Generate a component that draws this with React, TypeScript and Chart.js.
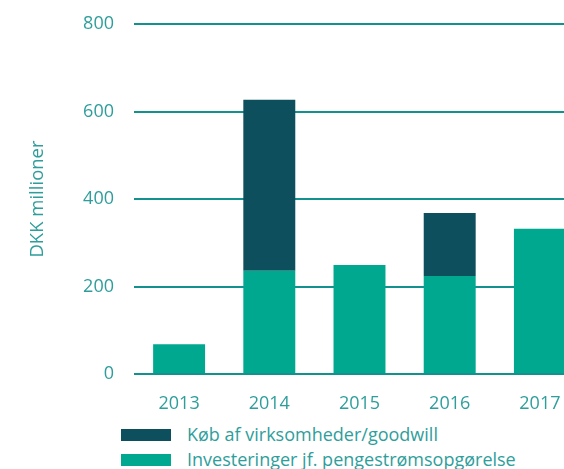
import React, { useEffect, useRef } from "react";
import { Chart, registerables } from "chart.js";

Chart.register(...registerables);

const years = ["2013", "2014", "2015", "2016", "2017"];
const investeringer = [68, 236, 249, 224, 332];
const koeb = [null, 391, null, 144, null];
const labelInvest = "Investeringer jf. pengestrømsopgørelse";
const labelKoeb = "Køb af virksomheder/goodwill";
const yTicks = [0, 200, 400, 600, 800];
const yTitle = "DKK millioner";

const GREEN = "#00a88f";
const DARK = "#0d4f5c";
const TEXT = "#2e9e9b";
const GRID = "#13918e";
const FONT = "'Open Sans', sans-serif";

export default function App() {
  const ref = useRef<HTMLCanvasElement | null>(null);

  useEffect(() => {
    if (!ref.current) return;
    const chart = new Chart(ref.current, {
      type: "bar",
      data: {
        labels: years,
        datasets: [
          { label: labelInvest, data: investeringer, backgroundColor: GREEN },
          { label: labelKoeb, data: koeb as any, backgroundColor: DARK },
        ],
      },
      options: {
        animation: false,
        responsive: false,
        layout: { padding: { left: 0, right: 15, top: 24, bottom: 0 } },
        datasets: { bar: { categoryPercentage: 0.576, barPercentage: 1 } },
        plugins: { legend: { display: false }, tooltip: { enabled: false } },
        scales: {
          x: {
            stacked: true,
            grid: { display: false },
            border: { display: false },
            ticks: { color: TEXT, font: { family: FONT, size: 18 }, padding: 11 },
            afterFit: (s: any) => { s.height = 46; },
          },
          y: {
            stacked: true,
            min: yTicks[0],
            max: yTicks[yTicks.length - 1],
            afterBuildTicks: (s: any) => { s.ticks = yTicks.map((v) => ({ value: v })); },
            grid: { color: GRID, lineWidth: 2, drawTicks: false },
            border: { display: false },
            ticks: { color: TEXT, font: { family: FONT, size: 18 }, padding: 20 },
            title: {
              display: true,
              text: yTitle,
              color: TEXT,
              font: { family: FONT, size: 18.5 },
              padding: { top: 27, bottom: 0 },
            },
            afterFit: (s: any) => {
              s.width = 134;
              s.paddingTop = 0;
              s.paddingBottom = 0;
            },
          },
        },
      },
    });
    return () => chart.destroy();
  }, []);

  const legendItems = [
    { label: labelKoeb, color: DARK },
    { label: labelInvest, color: GREEN },
  ];

  return (
    <div style={{ position: "fixed", left: 0, top: 0, width: 564, height: 469, overflow: "hidden", background: "#fff" }}>
      <canvas ref={ref} width={600} height={420} style={{ position: "absolute", left: 0, top: 0, width: 600, height: 420 }} />
      {legendItems.map((it, i) => (
        <div
          key={i}
          style={{
            position: "absolute",
            left: 121,
            top: 422 + i * 25,
            height: 25,
            display: "flex",
            alignItems: "center",
            fontFamily: FONT,
            fontSize: 18,
            lineHeight: "25px",
            color: TEXT,
            whiteSpace: "nowrap",
          }}
        >
          <span style={{ display: "inline-block", width: 50, height: 12, background: it.color, marginRight: 16 }} />
          <span>{it.label}</span>
        </div>
      ))}
    </div>
  );
}
